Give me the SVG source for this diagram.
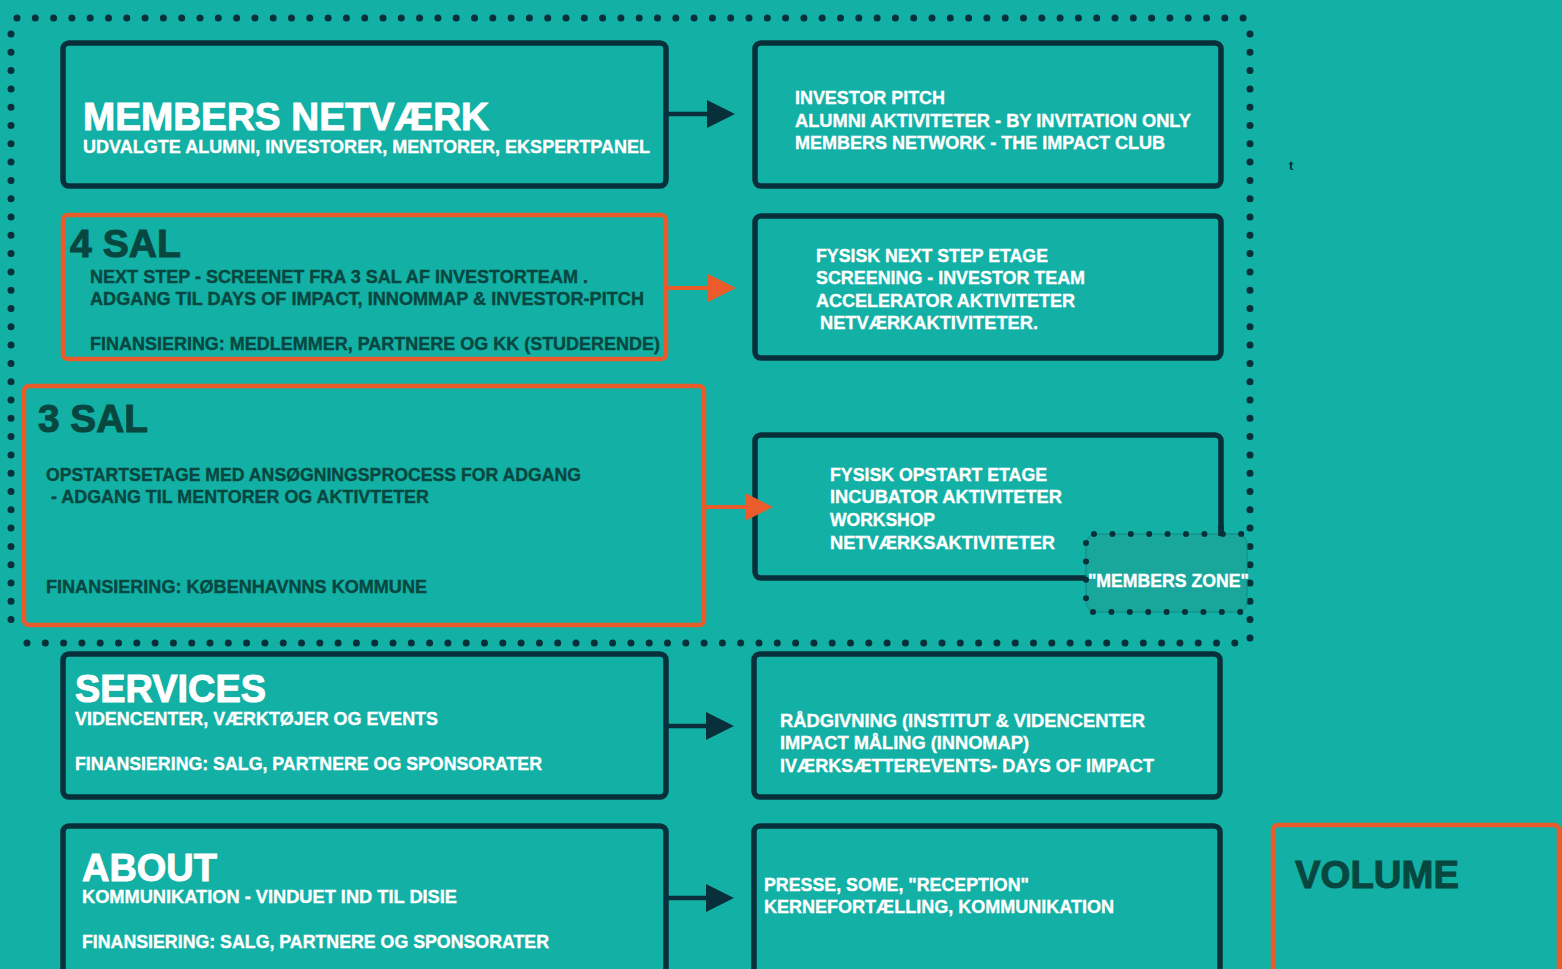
<svg xmlns="http://www.w3.org/2000/svg" width="1562" height="969" viewBox="0 0 1562 969">
<style>
.nbox{fill:none;stroke:#08303a;stroke-width:5.5}
.obox{fill:none;stroke:#ea5c2b;stroke-width:4.5}
.t{font-family:"Liberation Sans",Arial,sans-serif;font-weight:bold}
.w{fill:#ffffff;stroke:#ffffff}
.g{fill:#07473f;stroke:#07473f}
.s{font-size:18px;stroke-width:0.35}
.h{font-size:38px;stroke-width:1}
.dots{fill:none;stroke:#08303a;stroke-width:7;stroke-linecap:round;stroke-dasharray:0 18.3}
.nl{fill:none;stroke:#08303a;stroke-width:4.5}
.ol{fill:none;stroke:#ea5c2b;stroke-width:4}
</style>
<defs>
<marker id="an" viewBox="0 0 28 28" refX="3" refY="14" markerWidth="28" markerHeight="28" markerUnits="userSpaceOnUse" orient="auto"><path d="M0,0 L28,14 L0,28 z" fill="#08303a"/></marker>
<marker id="ao" viewBox="0 0 28 28" refX="3" refY="14" markerWidth="28" markerHeight="28" markerUnits="userSpaceOnUse" orient="auto"><path d="M0,0 L28,14 L0,28 z" fill="#ea5c2b"/></marker>
</defs>
<rect width="1562" height="969" fill="#12b0a5"/>
<g id="members-area">
<path class="dots" d="M17 18 H1245"/>
<path class="dots" d="M1250 34 V640"/>
<path class="dots" d="M27 643 H1245"/>
<path class="dots" d="M11 34 V637"/>
</g>
<g id="members-netvaerk">
<rect class="nbox" x="63" y="43" width="603" height="143" rx="6"/>
<text class="t w h" x="83" y="130" textLength="406" lengthAdjust="spacingAndGlyphs">MEMBERS NETVÆRK</text>
<text class="t w s" x="83" y="153" textLength="567" lengthAdjust="spacingAndGlyphs">UDVALGTE ALUMNI, INVESTORER, MENTORER, EKSPERTPANEL</text>
</g>
<g id="members-activities">
<rect class="nbox" x="755" y="43" width="466" height="143" rx="6"/>
<text class="t w s" x="795" y="104" textLength="150" lengthAdjust="spacingAndGlyphs">INVESTOR PITCH</text>
<text class="t w s" x="795" y="127" textLength="396" lengthAdjust="spacingAndGlyphs">ALUMNI AKTIVITETER - BY INVITATION ONLY</text>
<text class="t w s" x="795" y="149" textLength="370" lengthAdjust="spacingAndGlyphs">MEMBERS NETWORK - THE IMPACT CLUB</text>
</g>
<g id="sal4">
<rect class="obox" x="63" y="215" width="603" height="144" rx="5"/>
<text class="t g h" x="70" y="257" textLength="111" lengthAdjust="spacingAndGlyphs">4 SAL</text>
<text class="t g s" x="90" y="283" textLength="498" lengthAdjust="spacingAndGlyphs">NEXT STEP - SCREENET FRA 3 SAL AF INVESTORTEAM .</text>
<text class="t g s" x="90" y="305" textLength="554" lengthAdjust="spacingAndGlyphs">ADGANG TIL DAYS OF IMPACT, INNOMMAP &amp; INVESTOR-PITCH</text>
<text class="t g s" x="90" y="350" textLength="570" lengthAdjust="spacingAndGlyphs">FINANSIERING: MEDLEMMER, PARTNERE OG KK (STUDERENDE)</text>
</g>
<g id="sal4-activities">
<rect class="nbox" x="755" y="216" width="466" height="142" rx="6"/>
<text class="t w s" x="816" y="262" textLength="232" lengthAdjust="spacingAndGlyphs">FYSISK NEXT STEP ETAGE</text>
<text class="t w s" x="816" y="284" textLength="269" lengthAdjust="spacingAndGlyphs">SCREENING - INVESTOR TEAM</text>
<text class="t w s" x="816" y="307" textLength="259" lengthAdjust="spacingAndGlyphs">ACCELERATOR AKTIVITETER</text>
<text class="t w s" x="820" y="329" textLength="218" lengthAdjust="spacingAndGlyphs">NETVÆRKAKTIVITETER.</text>
</g>
<g id="sal3">
<rect class="obox" x="24" y="386" width="680" height="239" rx="5"/>
<text class="t g h" font-size="40" x="38" y="432" textLength="110" lengthAdjust="spacingAndGlyphs">3 SAL</text>
<text class="t g s" x="46" y="481" textLength="535" lengthAdjust="spacingAndGlyphs">OPSTARTSETAGE MED ANSØGNINGSPROCESS FOR ADGANG</text>
<text class="t g s" x="51" y="503" textLength="378" lengthAdjust="spacingAndGlyphs">- ADGANG TIL MENTORER OG AKTIVTETER</text>
<text class="t g s" x="46" y="593" textLength="381" lengthAdjust="spacingAndGlyphs">FINANSIERING: KØBENHAVNNS KOMMUNE</text>
</g>
<g id="sal3-activities">
<rect class="nbox" x="755" y="435" width="466" height="143" rx="6"/>
<text class="t w s" x="830" y="481" textLength="217" lengthAdjust="spacingAndGlyphs">FYSISK OPSTART ETAGE</text>
<text class="t w s" x="830" y="503" textLength="232" lengthAdjust="spacingAndGlyphs">INCUBATOR AKTIVITETER</text>
<text class="t w s" x="830" y="526" textLength="105" lengthAdjust="spacingAndGlyphs">WORKSHOP</text>
<text class="t w s" x="830" y="549" textLength="225" lengthAdjust="spacingAndGlyphs">NETVÆRKSAKTIVITETER</text>
</g>
<g id="members-zone">
<rect x="1086" y="534" width="161" height="78" rx="10" fill="#19a79c" stroke="#0f8a82" stroke-width="1"/>
<path d="M1221 525 V536" fill="none" stroke="#08303a" stroke-width="5.5"/>
<path d="M1094 534 H1242 M1086 543 V600 M1093 612 H1241" fill="none" stroke="#08303a" stroke-width="6" stroke-linecap="round" stroke-dasharray="0 18.4"/>
<text class="t w s" x="1088" y="587" textLength="161" lengthAdjust="spacingAndGlyphs">"MEMBERS ZONE"</text>
</g>
<g id="services">
<rect class="nbox" x="63" y="654" width="603" height="143" rx="6"/>
<text class="t w h" font-size="37" x="75" y="702" textLength="191" lengthAdjust="spacingAndGlyphs">SERVICES</text>
<text class="t w s" x="75" y="725" textLength="363" lengthAdjust="spacingAndGlyphs">VIDENCENTER, VÆRKTØJER OG EVENTS</text>
<text class="t w s" x="75" y="770" textLength="467" lengthAdjust="spacingAndGlyphs">FINANSIERING: SALG, PARTNERE OG SPONSORATER</text>
</g>
<g id="services-activities">
<rect class="nbox" x="754" y="654" width="466" height="143" rx="6"/>
<text class="t w s" x="780" y="727" textLength="365" lengthAdjust="spacingAndGlyphs">RÅDGIVNING (INSTITUT &amp; VIDENCENTER</text>
<text class="t w s" x="780" y="749" textLength="249" lengthAdjust="spacingAndGlyphs">IMPACT MÅLING (INNOMAP)</text>
<text class="t w s" x="780" y="772" textLength="374" lengthAdjust="spacingAndGlyphs">IVÆRKSÆTTEREVENTS- DAYS OF IMPACT</text>
</g>
<g id="about">
<rect class="nbox" x="63" y="826" width="603" height="200" rx="6"/>
<text class="t w h" x="82" y="881" textLength="135" lengthAdjust="spacingAndGlyphs">ABOUT</text>
<text class="t w s" x="82" y="903" textLength="375" lengthAdjust="spacingAndGlyphs">KOMMUNIKATION - VINDUET IND TIL DISIE</text>
<text class="t w s" x="82" y="948" textLength="467" lengthAdjust="spacingAndGlyphs">FINANSIERING: SALG, PARTNERE OG SPONSORATER</text>
</g>
<g id="about-activities">
<rect class="nbox" x="754" y="826" width="466" height="200" rx="6"/>
<text class="t w s" x="764" y="891" textLength="265" lengthAdjust="spacingAndGlyphs">PRESSE, SOME, "RECEPTION"</text>
<text class="t w s" x="764" y="913" textLength="350" lengthAdjust="spacingAndGlyphs">KERNEFORTÆLLING, KOMMUNIKATION</text>
</g>
<g id="volume">
<rect class="obox" x="1273" y="825" width="286" height="200" rx="5"/>
<text class="t g h" font-size="39" x="1295" y="888" textLength="164" lengthAdjust="spacingAndGlyphs">VOLUME</text>
</g>
<g id="note">
<text class="t" font-size="13" fill="#08303a" x="1289" y="170">t</text>
</g>
<g id="connectors">
<path class="nl" d="M668 114 H710" marker-end="url(#an)"/>
<path class="ol" d="M667 288 H711" marker-end="url(#ao)"/>
<path class="ol" d="M706 507 H748" marker-end="url(#ao)"/>
<path class="nl" d="M668 726 H709" marker-end="url(#an)"/>
<path class="nl" d="M668 898 H709" marker-end="url(#an)"/>
</g>
</svg>
